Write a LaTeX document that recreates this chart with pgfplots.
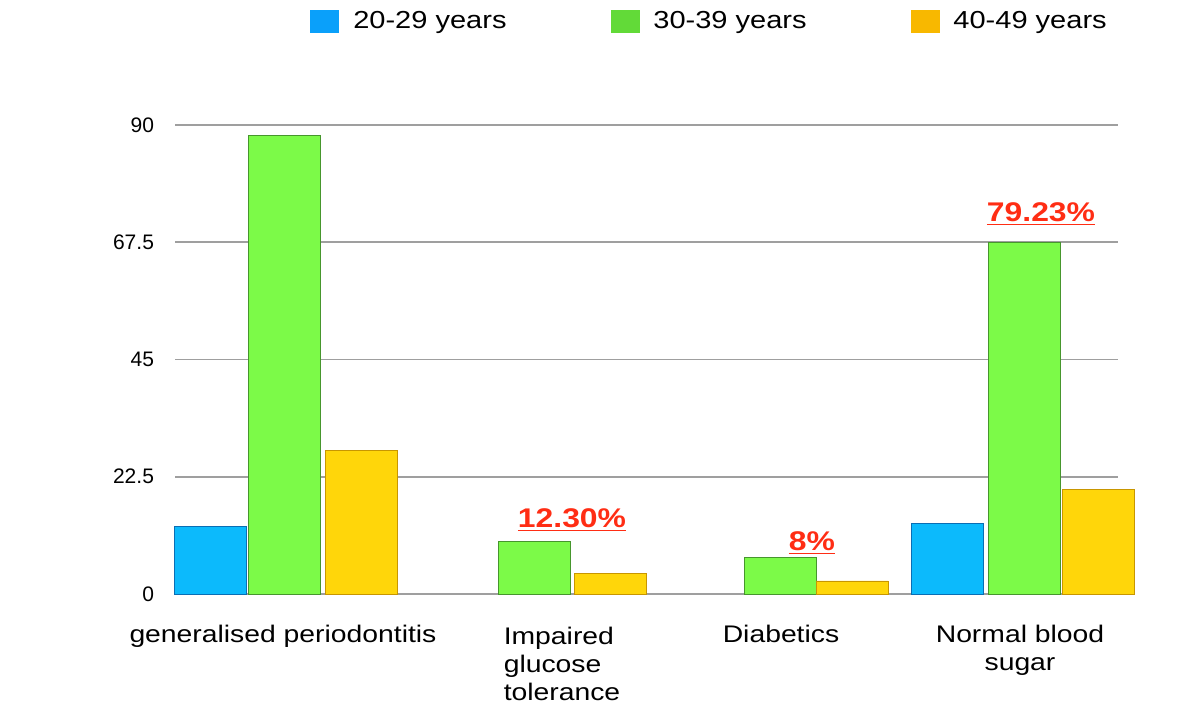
\documentclass[border=0pt]{standalone}
\usepackage{fontspec}
\setmainfont{Liberation Sans}
\newfontfamily\widefont{Liberation Sans}[FakeStretch=1.18]
\usepackage{pgfplots}
\pgfplotsset{compat=1.18}

\definecolor{agea}{RGB}{12,186,252}
\definecolor{ageb}{RGB}{124,250,72}
\definecolor{agec}{RGB}{255,214,10}
\definecolor{ageaD}{RGB}{10,110,180}
\definecolor{agebD}{RGB}{70,150,45}
\definecolor{agecD}{RGB}{200,150,0}
\definecolor{legA}{RGB}{10,160,250}
\definecolor{legB}{RGB}{98,218,56}
\definecolor{legC}{RGB}{248,184,0}
\definecolor{pctred}{RGB}{255,45,20}

\begin{document}
\begin{tikzpicture}
\begin{axis}[
  name=ax,
  scale only axis,
  width=471.5pt, height=234.5pt,
  xmin=1.75, xmax=11.18,
  ymin=0, ymax=90,
  clip=false,
  axis line style={draw=none},
  major tick length=0pt,
  ymajorgrids,
  grid style={gray!75, line width=0.8pt},
  ytick={0,22.5,45,67.5,90},
  yticklabels={0,22.5,45,67.5,90},
  yticklabel style={font=\fontsize{10.5}{12}\selectfont, xshift=-7pt},
  xtick={2.83,5.62,7.81,10.20},
  xticklabels={generalised periodontitis,
    {\begin{tabular}{@{}l@{}}Impaired\\glucose\\tolerance\end{tabular}},
    Diabetics,
    {Normal blood\\sugar}},
  xticklabel style={font=\widefont\fontsize{12}{14}\selectfont,
    align=center, anchor=north, yshift=-12pt},
  legend columns=3,
  legend style={at={(axis description cs:0.568,1.22)}, anchor=center,
    draw=none, fill=none,
    font=\widefont\fontsize{12.3}{14}\selectfont,
    /tikz/every odd column/.style={column sep=5pt},
    /tikz/every even column/.style={column sep=50pt}},
]
% 20-29 years
\addplot[ybar, bar width=0.72, bar shift=0pt, fill=agea, draw=ageaD, line width=0.4pt,
  legend image code/.code={\fill[legA] (0pt,-5.5pt) rectangle (14pt,5.5pt);}]
  coordinates {(2.10,13) (9.47,13.5)};
\addlegendentry{20-29 years}
% 30-39 years
\addplot[ybar, bar width=0.72, bar shift=0pt, fill=ageb, draw=agebD, line width=0.4pt,
  legend image code/.code={\fill[legB] (0pt,-5.5pt) rectangle (14pt,5.5pt);}]
  coordinates {(2.84,88) (5.34,10) (7.80,7) (10.24,67.5)};
\addlegendentry{30-39 years}
% 40-49 years
\addplot[ybar, bar width=0.72, bar shift=0pt, fill=agec, draw=agecD, line width=0.4pt,
  legend image code/.code={\fill[legC] (0pt,-5.5pt) rectangle (14pt,5.5pt);}]
  coordinates {(3.61,27.5) (6.10,4) (8.52,2.5) (10.98,20)};
\addlegendentry{40-49 years}

% group shares
\node[font=\widefont\bfseries\fontsize{13.5}{15}\selectfont, text=pctred]
  at (axis cs:5.72,14.2) {\underline{12.30\%}};
\node[font=\widefont\bfseries\fontsize{13.5}{15}\selectfont, text=pctred]
  at (axis cs:8.12,9.8) {\underline{8\%}};
\node[font=\widefont\bfseries\fontsize{13.5}{15}\selectfont, text=pctred]
  at (axis cs:10.41,72.9) {\underline{79.23\%}};
\end{axis}
\path ([shift={(-87.5pt,-54pt)}]ax.south west) rectangle ([shift={(42pt,62.5pt)}]ax.north east);
\end{tikzpicture}
\end{document}
